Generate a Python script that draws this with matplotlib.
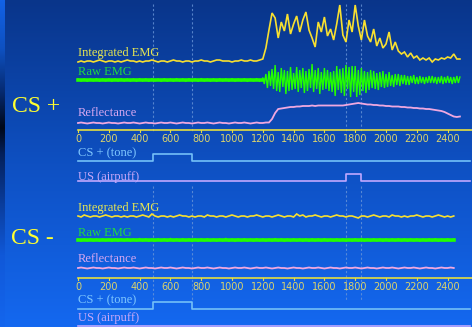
import numpy as np
import matplotlib
matplotlib.use("Agg")
from matplotlib import pyplot as plt
from matplotlib.colors import LinearSegmentedColormap

# ---- data (heights in px above each trace's baseline) ----
STEP = 20  # sample spacing in ms

# CS+ trial
integ_cs_plus = [0, 1, 0, 1, 1, 0, 1, 2, 1, 0, 1, 1, 0, 1, 0, 1, 2, 1, 1, 0,
                 1, 0, 1, 1, 2, 1, 0, 1, 1, 0, 1, 2, 1, 1, 0, 1, 1, 0, 1, 1,
                 2, 1, 1, 0, 1, 2, 2, 1, 1, 1, 0, 1, 1, 2, 1, 1, 2, 1, 1, 2,
                 3, 14, 32, 49, 44, 24, 40, 31, 48, 28, 38, 46, 30, 42, 50, 32,
                 24, 15, 40, 30, 45, 26, 33, 22, 38, 57, 27, 20, 42, 30, 57, 36,
                 22, 42, 26, 20, 33, 16, 24, 14, 18, 30, 12, 20, 11, 8, 10, 5,
                 9, 4, 6, 2, 4, 2, 4, 0, 3, 2, 4, 3, 5, 4, 8, 3, 3]
raw_cs_plus_quiet = [1.2, -1.1, 1.0, -1.3, 1.1, -1.0, 1.3, -1.2, 1.0, -1.1,
                     1.2, -1.3, 1.0, -1.0, 1.3, -1.1, 1.1, -1.2, 1.0, -1.3,
                     1.2, -1.0, 1.1, -1.2, 1.3, -1.0, 1.0, -1.3, 1.2, -1.1,
                     1.0, -1.2, 1.3, -1.0, 1.1, -1.3, 1.2, -1.0, 1.0, -1.2,
                     1.3, -1.1, 1.0, -1.2, 1.1, -1.3, 1.2, -1.0, 1.0, -1.1,
                     1.3, -1.2, 1.0, -1.0, 1.2, -1.3, 1.1, -1.0, 1.3, -1.2]
# burst, sampled every 10 ms from 1200 ms
raw_cs_plus_burst = [2, -4, 6, -8, 9, -6, 11, -9, 15, -11,
                     8, -12, 12, -7, 10, -14, 9, -11, 13, -10,
                     7, -9, 13, -12, 10, -8, 12, -13, 9, -11,
                     11, -8, 16, -12, 10, -9, 12, -14, 8, -10,
                     12, -9, 10, -11, 8, -12, 9, -16, 14, -10,
                     11, -13, 12, -16, 15, -9, 13, -17, 14, -12,
                     14, -17, 10, -15, 12, -11, 9, -13, 8, -10,
                     10, -8, 9, -9, 7, -10, 8, -7, 9, -8,
                     6, -7, 8, -6, 5, -7, 6, -5, 6, -6,
                     5, -4, 5, -5, 4, -5, 4, -3, 5, -4,
                     3, -4, 4, -3, 3, -4, 3, -3, 4, -3,
                     4, -3, 3, -4, 3, -3, 4, -4, 3, -3,
                     4, -3, 3, -4, 3, -3, 4, -3, 3]
refl_cs_plus = [0, 0.5, 0, -0.5, 0, 0.5, 0, 0, -0.5, 0, 0.5, 0, 0, -0.5, 0, 0.5,
                0, 0, 0.5, 0, -0.5, 0, 0.5, 0, 0, -0.5, 0, 0.5, 0, 0, 0.5, 0,
                -0.5, 0, 0.5, 0, 0, -0.5, 0, 0.5, 0, 0, 0.5, 0, -0.5, 0, 0.5, 0,
                0, -0.5, 0, 0.5, 0, 0, 0.5, 0, -0.5, 0, 0.5, 0, 0, 0.5,
                0.5, 4, 10, 14, 14.5, 15, 15.5, 16, 16, 16.5, 16.5, 17, 17, 17, 17.5, 17,
                17.5, 17.5, 17.5, 17.5, 17.5, 17.5, 17.5, 17.5, 17.5, 18, 18.5, 19, 19.5, 20, 19.5, 19,
                18.5, 18.5, 18, 18, 17.5, 17.5, 17, 17, 16.5, 16.5, 16.5, 16, 16, 15.5, 15.5, 15,
                15, 14.5, 14.5, 14, 14, 13.5, 13, 12.5, 12, 11, 9.5, 8, 6.5, 6, 6.5]

# CS- trial
integ_cs_minus = [1, 0, 2, 1, 0, 1, 1, 0, 1, 2, 1, 0, 1, 1, 0, 1, 0, 1, 1, 0,
                  1, 2, 1, 0, 3, 1, 0, 1, 1, 0, 1, 0, 1, 2, 1, 1, 0, 1, 0, 1,
                  1, 0, 2, 1, 1, 0, 1, 1, 0, 1, 2, 1, 0, 1, 1, 0, 1, 1, 2, 1,
                  0, 1, 1, 0, 1, 2, 1, 0, 1, 1, 0, 3, 1, 2, 0, 1, 1, 2, 1, 0,
                  1, 1, 0, 1, 2, 1, 1, 0, 1, 1, 0, -1, 1, 1, 0, 1, 2, 1, 0, 1,
                  1, 0, 2, 1, 1, 0, 1, 0, 1, 1, 2, 1, 0, 1, 1, 0, 1, 2, 1, 0,
                  1, 0, 1]
raw_cs_minus = [1.0, -1.2, 1.1, -1.0, 1.3, -1.1, 1.0, -1.2, 1.2, -1.0,
                1.1, -1.3, 1.0, -1.1, 1.2, -1.0, 1.3, -1.2, 1.0, -1.1,
                1.4, -1.0, 1.1, -1.2, 1.0, -1.3, 1.2, -1.0, 1.1, -1.2,
                1.5, -1.1, 1.0, -1.2, 1.3, -1.0, 1.1, -1.4, 1.0, -1.2,
                1.2, -1.0, 1.3, -1.1, 1.0, -1.2, 1.1, -1.0, 1.6, -1.2,
                1.0, -1.3, 1.1, -1.0, 1.2, -1.1, 1.0, -1.2, 1.3, -1.0,
                1.1, -1.2, 1.0, -1.1, 1.4, -1.0, 1.2, -1.3, 1.0, -1.1,
                1.2, -1.0, 1.1, -1.2, 1.0, -1.3, 1.2, -1.0, 1.1, -1.2,
                1.3, -1.1, 1.0, -1.2, 1.1, -1.0, 1.2, -1.3, 1.0, -1.1,
                1.2, -1.0, 1.5, -1.2, 1.0, -1.1, 1.2, -1.0, 1.1, -1.3,
                1.0, -1.2, 1.1, -1.0, 1.3, -1.1, 1.0, -1.2, 1.2, -1.0,
                1.1, -1.3, 1.0, -1.1, 1.2, -1.0, 1.3, -1.2, 1.0, -1.1,
                1.2, -1.0, 1.1]
refl_cs_minus = [0, 0.5, 0, -0.5, 0, 0.5, 0, 0, -0.5, 0, 0.5, 0, 0, -0.5, 0, 0.5,
                 0, 0, 0.5, 0, -0.5, 0, 0.5, 0, 0, -0.5, 0, 0.5, 0, 0, 0.5, 0,
                 -0.5, 0, 0.5, 0, 0, -0.5, 0, 0.5, 0, 0, 0.5, 0, -0.5, 0, 0.5, 0,
                 0, -0.5, 0, 0.5, 0, 0, 0.5, 0, -0.5, 0, 0.5, 0, 0, 0.5, 0, -0.5,
                 0, 0.5, 0, 0, -0.5, 0, 0.5, 0, 0, -0.5, 0, 0.5, 0, 0, 0.5, 0,
                 -0.5, 0, 0.5, 0, 0, -0.5, 0, 0.5, 0, 0, 0.5, 0, -0.5, 0, 0.5, 0,
                 0, -0.5, 0, 0.5, 0, 0, 0.5, 0, -0.5, 0, 0.5, 0, 0, 0.5, 0, -0.5,
                 0, 0.5, 0, 0, -0.5, 0, 0.5, 0, 0, 0.5, 0]

cs_on, cs_off = 490, 740       # tone (ms)
us_on, us_off = 1740, 1840     # airpuff (ms)
tick_vals = list(range(0, 2401, 200))

# ---- layout (pixels on a 472x327 canvas) ----
W, H = 472, 327
X0, KX = 78, 0.154           # px of t=0, px per ms
t_left, t_right = -X0 / KX, (W - X0) / KX

fig = plt.figure(figsize=(W / 100, H / 100), dpi=100)
ax = fig.add_axes([0, 0, 1, 1])
ax.set_xlim(t_left, t_right)
ax.set_ylim(H, 0)
ax.axis('off')

# slide background
bg = LinearSegmentedColormap.from_list('bg', ['#09358a', '#0e50c2', '#1468f0'])
ax.imshow(np.linspace(0, 1, 256).reshape(-1, 1), cmap=bg, aspect='auto',
          extent=(t_left, t_right, H, 0), zorder=0)
strip = LinearSegmentedColormap.from_list('strip', [
    (0.0, '#1262e6'), (0.15, '#0e50c0'), (0.28, '#062a70'), (0.39, '#000818'),
    (0.47, '#04205a'), (0.62, '#0a3c9a'), (0.78, '#1058d8'), (1.0, '#1466ee')])
ax.imshow(np.linspace(0, 1, 256).reshape(-1, 1), cmap=strip, aspect='auto',
          extent=(t_left, t_left + 5 / KX, H, 0), zorder=0.5)

YEL, GRN, PNK = '#f8e030', '#22ff00', '#f0a8e0'
TONE, PUFF, AXC = '#74c0f8', '#c0a8ff', '#e6de40'
serif = 'Liberation Serif'


def trace(vals, base, color, lw, start=0, step=STEP):
    t = start + np.arange(len(vals)) * step
    ax.plot(t, base - np.asarray(vals, float), color=color, lw=lw, zorder=3,
            solid_joinstyle='miter')
    return t


def raw_band(t_end, base):
    # the quiet raw EMG reads as a solid thick band
    ax.plot([0, t_end], [base, base], color=GRN, lw=2.6, zorder=3)


def step_line(on, off, base, color, end=2545):
    ax.plot([0, on, on, off, off, end], [base, base, base - 7, base - 7, base, base],
            color=color, lw=1.2, zorder=3)


def label(y, text, color):
    ax.text(0, y, text, color=color, fontsize=9, family=serif,
            ha='left', va='center', zorder=4)


def time_axis(y):
    ax.plot([0, t_right], [y, y], color=AXC, lw=1.2, zorder=3)
    for tv in tick_vals:
        ax.plot([tv, tv], [y, y + 2], color=AXC, lw=0.8, zorder=3)
        ax.text(tv, y + 9.5, str(tv), color='#dcd46c', fontsize=7,
                ha='center', va='center', zorder=4)


def markers(y0, y1):
    for tv in (cs_on, cs_off, us_on, us_off):
        ax.plot([tv, tv], [y0, y1], color='#6a96d8', lw=0.8, alpha=0.8,
                ls=(0, (2, 2)), zorder=2)


# ---- CS+ panel ----
markers(4, 131)
label(53, 'Integrated EMG', '#e8e850')
trace(integ_cs_plus, 62, YEL, 1.2)
label(72, 'Raw EMG', '#20d840')
t_q = trace(raw_cs_plus_quiet, 80, GRN, 1.0)
raw_band(t_q[-1] + STEP, 80)
trace(raw_cs_plus_burst, 80, GRN, 1.0, start=1200, step=10)
label(113, 'Reflectance', '#d8a8f0')
trace(refl_cs_plus, 123, PNK, 1.3)
time_axis(130)
label(153, 'CS + (tone)', '#80c8ff')
step_line(cs_on, cs_off, 161, TONE)
label(177, 'US (airpuff)', '#c8a8f8')
step_line(us_on, us_off, 181, PUFF)

# ---- CS- panel ----
markers(186, 300)
label(208, 'Integrated EMG', '#e8e850')
trace(integ_cs_minus, 217, YEL, 1.2)
label(233, 'Raw EMG', '#20d840')
t_m = trace(raw_cs_minus, 240, GRN, 1.0)
raw_band(t_m[-1], 240)
label(259, 'Reflectance', '#d8a8f0')
trace(refl_cs_minus, 268, PNK, 1.3)
time_axis(278)
label(300, 'CS + (tone)', '#80c8ff')
step_line(cs_on, cs_off, 309, TONE)
label(318, 'US (airpuff)', '#c8a8f8')
ax.plot([0, 2545], [325.5, 325.5], color=PUFF, lw=1.2, zorder=3)

fig.text(12 / W, 1 - 106 / H, 'CS +', color='#ffff30', fontsize=17,
         family=serif, ha='left', va='center')
fig.text(11 / W, 1 - 239 / H, 'CS -', color='#ffff30', fontsize=17,
         family=serif, ha='left', va='center')

fig.savefig('out.png', dpi=100)
